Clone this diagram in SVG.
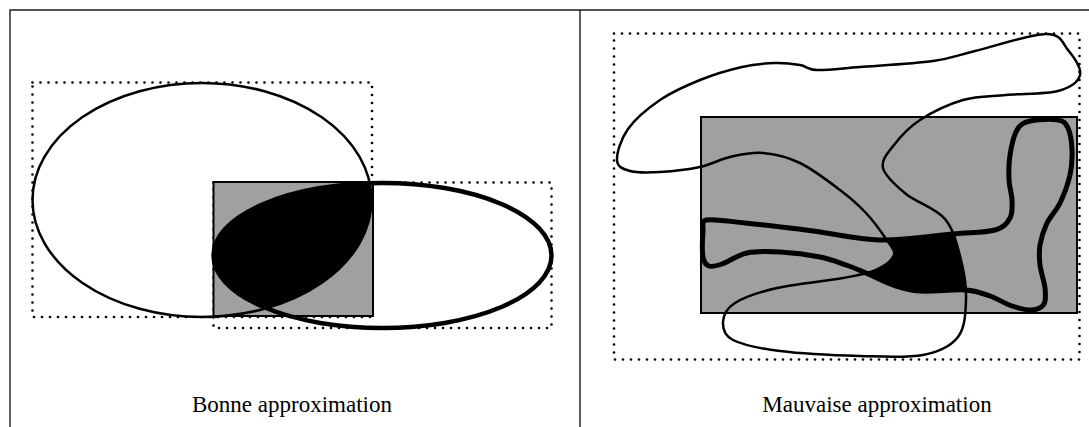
<svg xmlns="http://www.w3.org/2000/svg" xmlns:xlink="http://www.w3.org/1999/xlink" width="1089" height="427" viewBox="0 0 1089 427">
<style>
.frame{stroke:#1a1a1a;stroke-width:1.4;fill:none}
.dots{fill:none;stroke:#000;stroke-width:2.7;stroke-dasharray:0 8;stroke-linecap:round}
.gray{fill:#a0a0a0;stroke:#000;stroke-width:2}
.thin{fill:none;stroke:#000;stroke-width:2.5}
.thick{fill:none;stroke:#000;stroke-width:5}
.label{font-family:"Liberation Serif","Times New Roman",serif;font-size:23px;fill:#000;text-anchor:middle}
</style>
<defs>
<path id="shapeA" d="M617,160 C616.67,153 620.83,139 628,129 C635.17,119 648,108.17 660,100 C672,91.83 686.33,85.5 700,80 C713.67,74.5 729.5,69.830 742,67 C754.5,64.17 765.33,63.33 775,63 C784.67,62.67 793,63.83 800,65 C807,66.17 807,69.67 817,70 C827,70.33 840.67,68.5 860,67 C879.33,65.5 913.83,63.67 933,61 C952.17,58.33 956.17,55.5 975,51 C993.83,46.5 1030.5,34.17 1046,34 C1061.5,33.83 1062.33,43.17 1068,50 C1073.67,56.83 1081.67,68.17 1080,75 C1078.33,81.83 1070.33,87.67 1058,91 C1045.67,94.33 1021.83,93.5 1006,95 C990.17,96.5 977.33,95.83 963,100 C948.67,104.17 931.5,112.5 920,120 C908.5,127.5 900.17,137 894,145 C887.83,153 881,159.83 883,168 C885,176.17 895.67,185.5 906,194 C916.33,202.5 935.83,208 945,219 C954.17,230 957.5,246.5 961,260 C964.5,273.5 966.5,287.17 966,300 C965.5,312.83 965.17,327.83 958,337 C950.83,346.17 939.33,351.83 923,355 C906.67,358.17 883.83,356.67 860,356 C836.17,355.33 801.17,353.67 780,351 C758.83,348.33 742.5,344.83 733,340 C723.5,335.17 722.67,328.17 723,322 C723.33,315.83 726,308.67 735,303 C744,297.33 759,292.17 777,288 C795,283.83 826.5,281 843,278 C859.5,275 867.5,273.83 876,270 C884.5,266.17 892.33,260.17 894,255 C895.67,249.83 890.67,246 886,239 C881.33,232 873.67,221.17 866,213 C858.33,204.83 851,198.33 840,190 C829,181.67 812.83,169.17 800,163 C787.17,156.83 774.67,154 763,153 C751.33,152 740.5,154.67 730,157 C719.5,159.33 711.67,164.5 700,167 C688.33,169.5 671.67,171.33 660,172 C648.33,172.67 637.17,173 630,171 C622.83,169 617.33,167 617,160 Z"/>
<path id="shapeB" d="M706,220 C713,218.5 727.17,221.17 745,223 C762.83,224.83 790.5,228.17 813,231 C835.5,233.83 856.67,239.5 880,240 C903.33,240.5 933.83,235.67 953,234 C972.17,232.33 985.5,232.67 995,230 C1004.5,227.33 1007.17,223 1010,218 C1012.83,213 1012.17,206.33 1012,200 C1011.83,193.67 1009.33,187.5 1009,180 C1008.67,172.5 1008.67,163.33 1010,155 C1011.33,146.67 1013.67,135.67 1017,130 C1020.33,124.33 1023.17,122.67 1030,121 C1036.83,119.33 1051.67,118.83 1058,120 C1064.33,121.17 1065.67,123 1068,128 C1070.33,133 1071.67,142.17 1072,150 C1072.33,157.83 1072,166.17 1070,175 C1068,183.83 1063.83,195 1060,203 C1056.17,211 1050.33,216 1047,223 C1043.67,230 1041.17,238 1040,245 C1038.83,252 1039.17,257.83 1040,265 C1040.83,272.17 1044.33,281.5 1045,288 C1045.67,294.5 1046.17,300.33 1044,304 C1041.83,307.67 1037.33,309.67 1032,310 C1026.67,310.33 1019,308.33 1012,306 C1005,303.67 997.67,298.67 990,296 C982.33,293.33 977.67,290.83 966,290 C954.33,289.17 932.17,291.83 920,291 C907.83,290.17 902,288 893,285 C884,282 873.83,276.33 866,273 C858.17,269.67 853.67,267.67 846,265 C838.33,262.33 831,259.17 820,257 C809,254.83 792.17,252.67 780,252 C767.83,251.33 756.67,251 747,253 C737.33,255 728.330,261.83 722,264 C715.67,266.17 712.17,267.17 709,266 C705.83,264.83 704,262.67 703,257 C702,251.33 702.5,238.17 703,232 C703.5,225.83 701,221.5 706,220 Z"/>
<clipPath id="clipE1"><ellipse cx="202" cy="200" rx="169.5" ry="117"/></clipPath>
<clipPath id="clipB"><use xlink:href="#shapeB"/></clipPath>
</defs>

<g id="frame">
<path class="frame" d="M10,427 V10 H1089 M580,10 V427"/>
</g>

<g id="left-panel">
<g id="bbox-1"><rect class="dots" x="32.5" y="82.5" width="339.5" height="234.5"/></g>
<g id="bbox-2"><rect class="dots" x="213.5" y="182.5" width="338" height="145.5"/></g>
<g id="approx-rect"><rect class="gray" x="213.5" y="182" width="159.5" height="134"/></g>
<g id="intersection-1"><ellipse cx="382.5" cy="255.5" rx="169" ry="72.5" fill="#000" clip-path="url(#clipE1)"/></g>
<g id="ellipse-1"><ellipse class="thin" cx="202" cy="200" rx="169.5" ry="117"/></g>
<g id="ellipse-2"><ellipse cx="382.5" cy="255.5" rx="169" ry="72.5" fill="none" stroke="#000" stroke-width="4.5"/></g>
<text class="label" x="292" y="412">Bonne approximation</text>
</g>

<g id="right-panel">
<g id="bbox-3"><rect class="dots" x="614" y="33.5" width="465.5" height="326"/></g>
<g id="approx-rect-2"><rect class="gray" x="701" y="117" width="376" height="196"/></g>
<g id="intersection-2"><use xlink:href="#shapeA" fill="#000" clip-path="url(#clipB)"/></g>
<g id="shape-a"><use xlink:href="#shapeA" class="thin"/></g>
<g id="shape-b"><use xlink:href="#shapeB" class="thick"/></g>
<text class="label" x="877" y="412">Mauvaise approximation</text>
</g>
</svg>
